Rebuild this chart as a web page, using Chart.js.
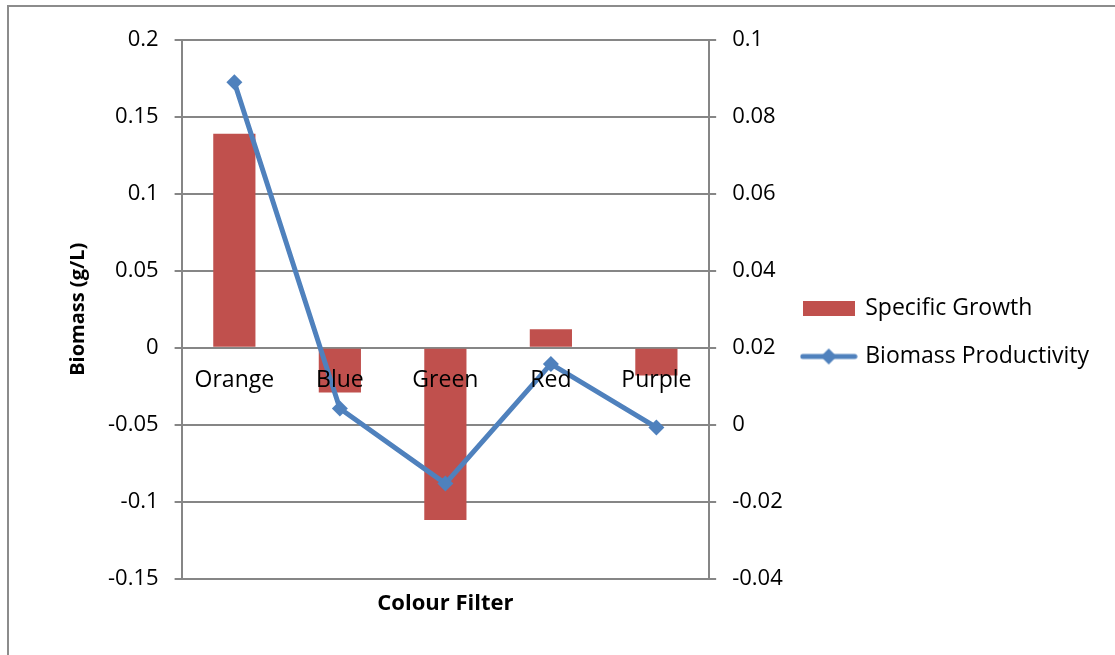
<!DOCTYPE html>
<html>
<head>
<meta charset="utf-8">
<script src="https://cdn.jsdelivr.net/npm/chart.js"></script>
<style>
  html, body { margin: 0; padding: 0; background: #fff; overflow: hidden; }
  #frame {
    position: absolute; left: 7px; top: 5px; width: 1200px; height: 700px;
    border-left: 2px solid #8c8c8c; border-top: 2px solid #8c8c8c;
  }
  #wrap { position: absolute; left: 0; top: 0; width: 1100px; height: 650px; }
</style>
</head>
<body>
<div id="frame"><div id="wrap"><canvas id="chart"></canvas></div></div>
<script>
const categories = ['Orange', 'Blue', 'Green', 'Red', 'Purple'];
const specificGrowth = [0.139, -0.029, -0.112, 0.012, -0.018];
const biomassProductivity = [0.089, 0.0042, -0.0153, 0.0158, -0.0007];
const leftTicks = [-0.15, -0.1, -0.05, 0, 0.05, 0.1, 0.15, 0.2];
const rightTicks = [-0.04, -0.02, 0, 0.02, 0.04, 0.06, 0.08, 0.1];

const red = '#C0504D';
const blue = '#4F81BD';
const gray = '#868686';
const font = 'Open Sans';

// legend symbols
const barIcon = document.createElement('canvas');
barIcon.width = 52; barIcon.height = 15;
let c = barIcon.getContext('2d');
c.fillStyle = red;
c.fillRect(0, 0, 52, 15);

const lineIcon = document.createElement('canvas');
lineIcon.width = 58; lineIcon.height = 20;
c = lineIcon.getContext('2d');
c.strokeStyle = blue;
c.lineWidth = 5;
c.lineCap = 'round';
c.beginPath(); c.moveTo(3, 10); c.lineTo(55, 10); c.stroke();
c.fillStyle = blue;
c.beginPath(); c.moveTo(29, 2); c.lineTo(37, 10); c.lineTo(29, 18); c.lineTo(21, 10); c.closePath(); c.fill();

function fixedTicks(list) {
  return function(scale) {
    scale.ticks = list.map(v => ({ value: v }));
  };
}
const plain = v => String(Math.round(v * 1000) / 1000);

const ctx = document.getElementById('chart').getContext('2d');
new Chart(ctx, {
  data: {
    labels: categories,
    datasets: [
      {
        type: 'line',
        label: 'Biomass Productivity',
        data: biomassProductivity,
        yAxisID: 'y1',
        borderColor: blue,
        backgroundColor: blue,
        borderWidth: 5,
        pointStyle: 'rectRot',
        pointRadius: 8,
        pointBorderWidth: 0,
        pointBackgroundColor: blue,
        tension: 0,
        order: 0
      },
      {
        type: 'bar',
        label: 'Specific Growth',
        data: specificGrowth,
        yAxisID: 'y',
        backgroundColor: red,
        barPercentage: 0.4,
        categoryPercentage: 1,
        order: 1
      }
    ]
  },
  options: {
    responsive: true,
    maintainAspectRatio: false,
    animation: false,
    layout: { padding: { top: 33, left: 57, right: 10, bottom: 40 } },
    scales: {
      x: {
        position: { y: 0 },
        grid: { display: false },
        border: { display: true, color: gray, width: 2 },
        ticks: { z: 1, color: '#000', font: { family: font, size: 23 }, padding: 11, maxRotation: 0 }
      },
      x2: {
        type: 'category',
        position: 'bottom',
        grid: { display: false },
        border: { display: false },
        ticks: { display: false },
        title: { display: true, text: 'Colour Filter', color: '#000', font: { family: font, size: 22, weight: 'bold' }, padding: { top: 4, bottom: 0 } }
      },
      y: {
        position: 'left',
        min: -0.15,
        max: 0.2,
        afterBuildTicks: fixedTicks(leftTicks),
        grid: { color: gray, lineWidth: 2, tickLength: 7 },
        border: { color: gray, width: 2 },
        ticks: { color: '#000', font: { family: font, size: 22 }, padding: 16, callback: plain },
        title: { display: true, text: 'Biomass (g/L)', color: '#000', font: { family: font, size: 20, weight: 'bold' }, padding: { top: 0, bottom: 2 } }
      },
      y1: {
        position: 'right',
        min: -0.04,
        max: 0.1,
        afterBuildTicks: fixedTicks(rightTicks),
        grid: { drawOnChartArea: false, color: gray, lineWidth: 2, tickLength: 7 },
        border: { color: gray, width: 2 },
        ticks: { color: '#000', font: { family: font, size: 22 }, padding: 16, callback: plain }
      }
    },
    plugins: {
      tooltip: { enabled: false },
      legend: {
        position: 'right',
        maxWidth: 400,
        // empty title only pushes the entries a little lower
        title: { display: true, text: ' ', color: '#000', font: { size: 10, lineHeight: '28px' }, padding: 0 },
        labels: {
          usePointStyle: true,
          pointStyleWidth: 50,
          padding: 5,
          color: '#000',
          font: { family: font, size: 23, lineHeight: '43px' },
          // text given as arrays so the row height follows the font lineHeight
          generateLabels: function(chart) {
            return [
              { text: ['Specific Growth'], pointStyle: barIcon, datasetIndex: 1, fillStyle: red, strokeStyle: red, fontColor: '#000', lineWidth: 0 },
              { text: ['Biomass Productivity'], pointStyle: lineIcon, datasetIndex: 0, fillStyle: blue, strokeStyle: blue, fontColor: '#000', lineWidth: 0 }
            ];
          }
        }
      }
    }
  }
});
</script>
</body>
</html>
